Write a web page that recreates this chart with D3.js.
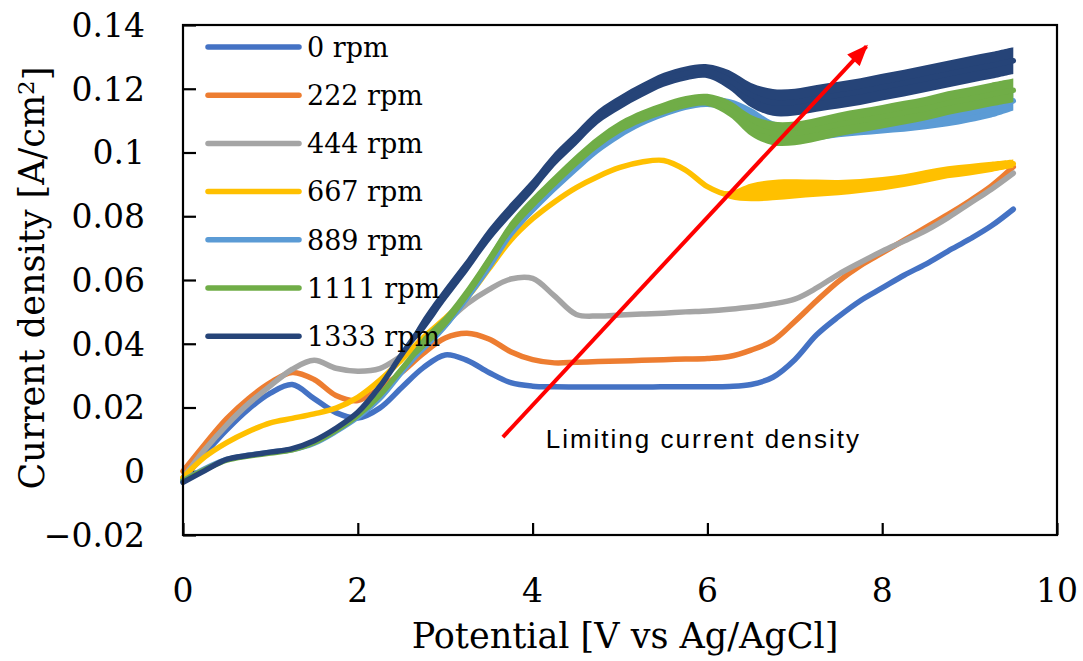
<!DOCTYPE html>
<html>
<head>
<meta charset="utf-8">
<script src="https://cdn.jsdelivr.net/npm/d3@7"></script>
<style>
    body { margin: 0; background: #fff; }
    svg { display: block; }
</style>
</head>
<body>
<div id="chart"></div>
<script>
"use strict";

// potential [V vs Ag/AgCl]
const potential = [0, 0.25, 0.5, 0.75, 1, 1.25, 1.5, 1.75, 2, 2.25, 2.5, 2.75, 3, 3.25, 3.5, 3.75,
                   4, 4.25, 4.5, 4.75, 5, 5.25, 5.5, 5.75, 6, 6.25, 6.5, 6.75, 7, 7.25, 7.5, 7.75,
                   8, 8.25, 8.5, 8.75, 9, 9.25, 9.5];

// current density [A/cm2], one array per rotation speed
const rpm0 = [-0.0025, 0.0055, 0.013, 0.0195, 0.0245, 0.0272, 0.0228, 0.0184, 0.0167, 0.0198, 0.0262, 0.0325,
              0.0365, 0.0348, 0.031, 0.0278, 0.0267, 0.0265, 0.0264, 0.0264, 0.0264, 0.0264, 0.0265, 0.0265,
              0.0265, 0.0266, 0.0272, 0.0295, 0.035, 0.0428, 0.0485, 0.0535, 0.0575, 0.0615, 0.065, 0.069,
              0.0728, 0.077, 0.0822];
const rpm222 = [0.0, 0.0085, 0.0165, 0.0228, 0.0278, 0.031, 0.0288, 0.0238, 0.0222, 0.026, 0.031, 0.037,
                0.0418, 0.0433, 0.0415, 0.0375, 0.035, 0.034, 0.0342, 0.0344, 0.0346, 0.0348, 0.035, 0.0352,
                0.0354, 0.036, 0.038, 0.041, 0.047, 0.0535, 0.0596, 0.0645, 0.0685, 0.0725, 0.0765, 0.0805,
                0.0848, 0.0895, 0.0955];
const rpm444 = [-0.002, 0.0068, 0.0145, 0.0212, 0.0268, 0.032, 0.0348, 0.0323, 0.0314, 0.0322, 0.0362, 0.041,
                0.0465, 0.0525, 0.057, 0.0603, 0.0605, 0.055, 0.0492, 0.0487, 0.049, 0.0493, 0.0496, 0.05,
                0.0503, 0.0508, 0.0515, 0.0525, 0.054, 0.0575, 0.0618, 0.0655, 0.069, 0.0722, 0.0755, 0.0795,
                0.084, 0.0885, 0.0935];
const rpm667 = [-0.002, 0.0045, 0.009, 0.0125, 0.0152, 0.0166, 0.018, 0.0198, 0.0232, 0.0285, 0.035, 0.042,
                0.048, 0.0545, 0.0635, 0.0725, 0.0792, 0.0845, 0.089, 0.0925, 0.0953, 0.097, 0.0975, 0.0945,
                0.0893, 0.0867, 0.0875, 0.0882, 0.0886, 0.0888, 0.089, 0.0895, 0.0902, 0.0912, 0.0925, 0.0938,
                0.0946, 0.0955, 0.0965];
const rpm889 = [-0.003, 0.0008, 0.0037, 0.005, 0.006, 0.0068, 0.0088, 0.0125, 0.017, 0.0228, 0.031, 0.0388,
                0.0458, 0.0545, 0.064, 0.0745, 0.0822, 0.089, 0.0953, 0.1013, 0.106, 0.1098, 0.1126, 0.1148,
                0.1158, 0.1148, 0.1115, 0.1068, 0.106, 0.1068, 0.1078, 0.1084, 0.109, 0.1095, 0.1103, 0.1112,
                0.1125, 0.114, 0.1162];
const rpm1111 = [-0.003, 0.0005, 0.0035, 0.0048, 0.0057, 0.0067, 0.009, 0.0128, 0.0175, 0.0238, 0.032, 0.0402,
                 0.047, 0.0558, 0.066, 0.0765, 0.0842, 0.091, 0.0975, 0.1033, 0.108, 0.1113, 0.1138, 0.1158,
                 0.1165, 0.1138, 0.1085, 0.106, 0.106, 0.1072, 0.1088, 0.11, 0.1112, 0.1125, 0.1138, 0.1155,
                 0.1168, 0.1182, 0.1195];
const rpm1333 = [-0.0035, 0.0002, 0.0037, 0.005, 0.006, 0.0071, 0.0096, 0.0135, 0.0185, 0.0265, 0.0365, 0.046,
                 0.0555, 0.0645, 0.074, 0.082, 0.0895, 0.0978, 0.1045, 0.1112, 0.1157, 0.1195, 0.1228, 0.1248,
                 0.1255, 0.1228, 0.118, 0.1157, 0.1158, 0.117, 0.118, 0.1191, 0.1205, 0.1218, 0.1232, 0.1246,
                 0.126, 0.1273, 0.1288];

// half width of the noisy band seen around each trace (same units)
const noise667 = [0, 0, 0, 0, 0, 0, 0, 0, 0, 0, 0, 0, 0, 0, 0, 0, 0, 0, 0, 0, 0, 0, 0, 0, 0,
                  0.0012, 0.0028, 0.0032, 0.003, 0.0027, 0.0024, 0.0022, 0.0021, 0.002, 0.002, 0.0019,
                  0.0018, 0.0016, 0.0013];
const noise889 = [0, 0, 0, 0, 0, 0, 0, 0, 0, 0, 0,
                  0.0015, 0.0015, 0.0015, 0.0015, 0.0015, 0.0015, 0.0015, 0.0015, 0.0015, 0.0015, 0.0015,
                  0.0015, 0.0015, 0.0015, 0.002, 0.0025,
                  0.003, 0.003, 0.003, 0.003, 0.003, 0.003, 0.003, 0.003, 0.003, 0.003, 0.003, 0.003];
const noise1111 = [0, 0, 0, 0, 0, 0, 0, 0, 0, 0, 0,
                   0.0019, 0.0019, 0.0019, 0.0019, 0.0019, 0.0019, 0.0019, 0.0019, 0.0019, 0.0019, 0.0019,
                   0.0019, 0.0019, 0.0019, 0.0025, 0.0033,
                   0.0037, 0.0037, 0.0037, 0.0037, 0.0037, 0.0037, 0.0037, 0.0037, 0.0037, 0.0037, 0.0037, 0.0037];
const noise1333 = [0, 0, 0, 0, 0, 0, 0, 0, 0, 0, 0,
                   0.0022, 0.0022, 0.0022, 0.0022, 0.0022, 0.0022, 0.0022, 0.0022, 0.0022, 0.0022, 0.0022,
                   0.0022, 0.0022, 0.0022, 0.003, 0.0038,
                   0.0042, 0.0042, 0.0042, 0.0042, 0.0042, 0.0042, 0.0042, 0.0042, 0.0042, 0.0042, 0.0042, 0.0042];

const seriesNames = ["0 rpm", "222 rpm", "444 rpm", "667 rpm", "889 rpm", "1111 rpm", "1333 rpm"];
const seriesValues = [rpm0, rpm222, rpm444, rpm667, rpm889, rpm1111, rpm1333];
const seriesNoise = [null, null, null, noise667, noise889, noise1111, noise1333];
const seriesColors = ["#4472C4", "#ED7D31", "#A5A5A5", "#FFC000", "#5B9BD5", "#70AD47", "#264478"];

const xTicks = [0, 2, 4, 6, 8, 10];
const yTicks = [-0.02, 0, 0.02, 0.04, 0.06, 0.08, 0.1, 0.12, 0.14];
const yTickLabels = ["\u22120.02", "0", "0.02", "0.04", "0.06", "0.08", "0.1", "0.12", "0.14"];

// red arrow: from / to in data units
const arrowFrom = [3.66, 0.0107];
const arrowTo = [7.82, 0.1333];
const arrowText = "Limiting current density";
const arrowTextAt = [4.15, 0.0072];

const W = 1083, H = 661;
const margin = { top: 25, right: 26, bottom: 126, left: 183 };
const width = W - margin.left - margin.right;
const height = H - margin.top - margin.bottom;
const serif = "'DejaVu Serif', 'Liberation Serif', serif";

const xScale = d3.scaleLinear().domain([0, 10]).range([0, width]);
const yScale = d3.scaleLinear().domain([-0.02, 0.14]).range([height, 0]);

const svg = d3.select("#chart").append("svg")
              .attr("width", W)
              .attr("height", H);

const defs = svg.append("defs");
defs.append("marker")
    .attr("id", "head")
    .attr("markerUnits", "userSpaceOnUse")
    .attr("viewBox", "0 0 20 16")
    .attr("refX", 18).attr("refY", 8)
    .attr("markerWidth", 22).attr("markerHeight", 17)
    .attr("orient", "auto")
    .append("path")
    .attr("d", "M0,0 L20,8 L0,16 Z")
    .attr("fill", "#FF0000");

const plot = svg.append("g")
                .attr("transform", `translate(${margin.left}, ${margin.top})`);

// ticks pointing inward
const yAxis = plot.append("g")
                  .call(d3.axisRight(yScale).tickValues(yTicks).tickSize(13).tickFormat(""));
const xAxis = plot.append("g")
                  .attr("transform", `translate(0, ${height})`)
                  .call(d3.axisTop(xScale).tickValues(xTicks).tickSize(12).tickFormat(""));
[yAxis, xAxis].forEach(a => {
    a.select(".domain").remove();
    a.selectAll(".tick line").attr("stroke", "#000").attr("stroke-width", 2.2);
});

// curves
const line = d3.line()
               .x((d, i) => xScale(potential[i]))
               .y(d => yScale(d))
               .curve(d3.curveCatmullRom.alpha(0.5));
const band = d3.area()
               .x((d, i) => xScale(potential[i]))
               .y0(d => yScale(d.v - d.n))
               .y1(d => yScale(d.v + d.n))
               .curve(d3.curveCatmullRom.alpha(0.5));

seriesValues.forEach((vals, s) => {
    const g = plot.append("g").attr("class", "series");
    const noise = seriesNoise[s];
    if (noise) {
        g.append("path")
         .datum(vals.map((v, i) => ({ v: v, n: noise[i] })))
         .attr("d", band)
         .attr("fill", seriesColors[s]);
    }
    g.append("path")
     .datum(vals)
     .attr("d", line)
     .attr("fill", "none")
     .attr("stroke", seriesColors[s])
     .attr("stroke-width", 5.5)
     .attr("stroke-linecap", "round")
     .attr("stroke-linejoin", "round");
});

// frame
plot.append("rect")
    .attr("width", width)
    .attr("height", height)
    .attr("fill", "none")
    .attr("stroke", "#000")
    .attr("stroke-width", 2.2);

// tick labels
plot.selectAll("text.ylab")
    .data(yTicks)
    .join("text")
    .attr("class", "ylab")
    .attr("x", -38)
    .attr("y", d => yScale(d))
    .attr("dy", "0.36em")
    .attr("text-anchor", "end")
    .style("font-family", serif)
    .style("font-size", "33px")
    .text((d, i) => yTickLabels[i]);

plot.selectAll("text.xlab")
    .data(xTicks)
    .join("text")
    .attr("class", "xlab")
    .attr("x", d => xScale(d))
    .attr("y", height + 67)
    .attr("text-anchor", "middle")
    .style("font-family", serif)
    .style("font-size", "33px")
    .text(d => d);

// axis titles
svg.append("text")
   .attr("x", margin.left + width / 2 + 5)
   .attr("y", 648)
   .attr("text-anchor", "middle")
   .style("font-family", serif)
   .style("font-size", "35px")
   .text("Potential [V vs Ag/AgCl]");

const yTitle = svg.append("text")
                  .attr("transform", "translate(44, 278) rotate(-90)")
                  .attr("text-anchor", "middle")
                  .style("font-family", serif)
                  .style("font-size", "35px");
yTitle.append("tspan").text("Current density [A/cm");
yTitle.append("tspan").attr("dy", "-0.45em").style("font-size", "23px").text("2");
yTitle.append("tspan").attr("dy", "0.45em").text("]");

// legend
const legend = plot.append("g").attr("transform", "translate(25, 22)");
const rows = legend.selectAll("g")
                   .data(seriesNames)
                   .join("g")
                   .attr("transform", (d, i) => `translate(0, ${i * 48.2})`);
rows.append("line")
    .attr("x1", 0).attr("x2", 91)
    .attr("stroke", (d, i) => seriesColors[i])
    .attr("stroke-width", 5.5)
    .attr("stroke-linecap", "round");
rows.append("text")
    .attr("x", 99)
    .attr("dy", "0.36em")
    .style("font-family", serif)
    .style("font-size", "27px")
    .text(d => d);

// annotation arrow
plot.append("line")
    .attr("x1", xScale(arrowFrom[0])).attr("y1", yScale(arrowFrom[1]))
    .attr("x2", xScale(arrowTo[0])).attr("y2", yScale(arrowTo[1]))
    .attr("stroke", "#FF0000")
    .attr("stroke-width", 4)
    .attr("marker-end", "url(#head)");
plot.append("text")
    .attr("x", xScale(arrowTextAt[0]))
    .attr("y", yScale(arrowTextAt[1]))
    .style("font-family", "'Liberation Sans', Arial, sans-serif")
    .style("font-size", "26px")
    .style("letter-spacing", "2px")
    .text(arrowText);
</script>
</body>
</html>
